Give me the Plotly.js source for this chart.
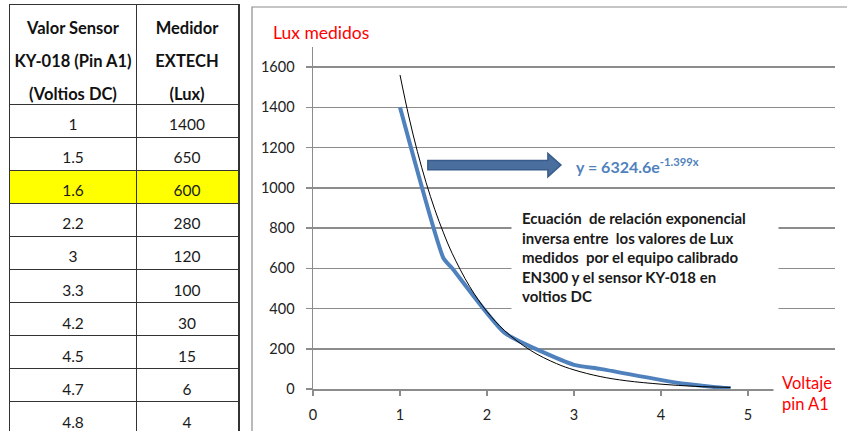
<!DOCTYPE html>
<html>
<head>
<meta charset="utf-8">
<script src="https://cdn.plot.ly/plotly-3.0.1.min.js"></script>
<style>
  html, body { margin: 0; padding: 0; background: #fff; }
  #chart { width: 847px; height: 431px; }
</style>
</head>
<body>
<div id="chart"></div>
<script>
// ---- Data ----
const voltajeLabels = ["1", "1.5", "1.6", "2.2", "3", "3.3", "4.2", "4.5", "4.7", "4.8"];
const voltaje = [1, 1.5, 1.6, 2.2, 3, 3.3, 4.2, 4.5, 4.7, 4.8];
const luxMedidos = [1400, 650, 600, 280, 120, 100, 30, 15, 6, 4];
const highlightRow = "1.6";

// exponential trend line (black)
const trendX = [1.0, 1.1, 1.2, 1.3, 1.4, 1.5, 1.6, 1.8, 2.0, 2.2, 2.5, 2.8, 3.0, 3.3, 3.6, 4.0, 4.4, 4.8];
const trendY = [1561, 1357, 1180, 1026, 892, 776, 674, 510, 385, 291, 192, 126, 95, 62, 41, 24, 13, 8];

const headerCol1 = ["Valor Sensor", "KY-018 (Pin A1)", "(Voltios DC)"];
const headerCol2 = ["Medidor", "EXTECH", "(Lux)"];

const xTickVals = [0, 1, 2, 3, 4, 5];
const yTickVals = [0, 200, 400, 600, 800, 1000, 1200, 1400, 1600];

const yTitle = "Lux medidos";
const xTitle = "Voltaje<br>pin A1";
const equationText = "<b>y = 6324.6e<sup>-1.399x</sup></b>";
const noteLines = [
  "Ecuación  de relación exponencial",
  "inversa entre  los valores de Lux",
  "medidos  por el equipo calibrado",
  "EN300 y el sensor KY-018 en",
  "voltios DC"
];

// ---- Layout helpers ----
const W = 847, H = 431;
const px = v => v / W;
const py = v => (H - v) / H;
const FONT = "Lato, 'Open Sans', sans-serif";

// table geometry (in table-axis units)
const colEdges = [0, 126, 228];
const colCenters = [63, 177];
const headerRows = headerCol1.length;
const nRows = headerRows + voltajeLabels.length;

// table text built from data
const hX = [], hY = [], hText = [];
headerCol1.forEach((t, i) => { hX.push(colCenters[0]); hY.push(i + 0.76); hText.push("<b>" + t + "</b>"); });
headerCol2.forEach((t, i) => { hX.push(colCenters[1]); hY.push(i + 0.76); hText.push("<b>" + t + "</b>"); });
const dX = [], dY = [], dText = [];
voltajeLabels.forEach((t, i) => { dX.push(colCenters[0]); dY.push(headerRows + i + 0.68); dText.push(t); });
luxMedidos.forEach((t, i) => { dX.push(colCenters[1]); dY.push(headerRows + i + 0.68); dText.push(String(t)); });

const rowLines = [];
for (let r = headerRows; r < nRows; r++) rowLines.push(r);
const hi = headerRows + voltajeLabels.indexOf(highlightRow);

const traces = [
  {
    type: "scatter", mode: "lines", name: "Lux",
    x: voltaje, y: luxMedidos,
    line: { color: "#4F81BD", width: 4, shape: "spline", smoothing: 0.5 },
    xaxis: "x", yaxis: "y", hoverinfo: "skip"
  },
  {
    type: "scatter", mode: "lines", name: "Tendencia",
    x: trendX, y: trendY,
    line: { color: "#000000", width: 1, shape: "spline" },
    xaxis: "x", yaxis: "y", hoverinfo: "skip"
  },
  {
    type: "scatter", mode: "text",
    x: hX, y: hY, text: hText,
    textposition: "middle center",
    textfont: { family: FONT, size: 16.5, color: "#111" },
    xaxis: "x2", yaxis: "y2", hoverinfo: "skip", cliponaxis: false
  },
  {
    type: "scatter", mode: "text",
    x: dX, y: dY, text: dText,
    textposition: "middle center",
    textfont: { family: FONT, size: 15.5, color: "#1a1a1a" },
    xaxis: "x2", yaxis: "y2", hoverinfo: "skip", cliponaxis: false
  }
];

const layout = {
  width: W, height: H,
  margin: { l: 0, r: 0, t: 0, b: 0 },
  paper_bgcolor: "#ffffff", plot_bgcolor: "rgba(0,0,0,0)",
  showlegend: false,
  font: { family: FONT, size: 14, color: "#222" },
  xaxis: {
    domain: [px(313), px(835)], anchor: "y",
    range: [0, 6], tickvals: xTickVals, ticktext: xTickVals.map(String),
    showgrid: false, zeroline: false,
    showline: true, linecolor: "#8c8c8c", linewidth: 1.5,
    ticks: "outside", ticklen: 5, tickcolor: "#8c8c8c", tickwidth: 1.5,
    ticklabelstandoff: 7,
    tickfont: { family: FONT, size: 14.5, color: "#222" },
    fixedrange: true
  },
  yaxis: {
    domain: [42 / H, (H - 47) / H], anchor: "x",
    range: [0, 1700], tickvals: yTickVals, ticktext: yTickVals.map(String),
    showgrid: true, gridcolor: "#8c8c8c", gridwidth: 1.5,
    zeroline: false,
    showline: true, linecolor: "#8c8c8c", linewidth: 1.5,
    ticks: "outside", ticklen: 6, tickcolor: "#8c8c8c", tickwidth: 1.5,
    ticklabelstandoff: 8,
    tickfont: { family: FONT, size: 14.5, color: "#222" },
    fixedrange: true
  },
  xaxis2: {
    domain: [px(10), px(238)], anchor: "y2",
    range: [colEdges[0], colEdges[2]],
    tickvals: [colEdges[1]], showticklabels: false, ticks: "",
    showgrid: true, gridcolor: "#333", gridwidth: 1,
    zeroline: false, showline: true, side: "top", linecolor: "#333", linewidth: 1.5,
    fixedrange: true
  },
  yaxis2: {
    domain: [0, (H - 5) / H], anchor: "x2",
    range: [12.9, 0], autorange: false,
    tickvals: rowLines, showticklabels: false, ticks: "",
    showgrid: true, gridcolor: "#333", gridwidth: 1,
    zeroline: false, showline: true, mirror: true, linecolor: "#333", linewidth: 1.5,
    fixedrange: true
  },
  shapes: [
    // highlighted row
    { type: "rect", xref: "x2", yref: "y2", x0: colEdges[0], x1: colEdges[2], y0: hi, y1: hi + 1,
      fillcolor: "#FFFF00", line: { width: 0 }, layer: "below" },
    // chart outer border
    { type: "rect", xref: "paper", yref: "paper", x0: px(252), x1: px(900), y0: py(470), y1: py(7),
      fillcolor: "rgba(0,0,0,0)", line: { color: "#8c8c8c", width: 1.2 }, layer: "above" },
    // block arrow pointing to the equation
    { type: "path", xref: "x", yref: "y",
      path: "M1.32,1090 L2.70,1090 L2.70,1055 L2.85,1113 L2.70,1171 L2.70,1136 L1.32,1136 Z",
      fillcolor: "#4A6E9E", line: { color: "#385D8A", width: 1.5 }, layer: "above" }
  ],
  annotations: [
    { xref: "paper", yref: "paper", x: px(271), y: py(32), xanchor: "left", yanchor: "middle",
      text: yTitle, showarrow: false, font: { family: FONT, size: 17.5, color: "#FF0000" } },
    { xref: "paper", yref: "paper", x: px(773), y: py(393), xanchor: "left", yanchor: "middle",
      text: xTitle, showarrow: false, align: "left", bgcolor: "#ffffff", borderpad: 8,
      font: { family: FONT, size: 16.5, color: "#FF0000" } },
    { xref: "paper", yref: "paper", x: px(574), y: py(166), xanchor: "left", yanchor: "middle",
      text: equationText, showarrow: false, font: { family: FONT, size: 16, color: "#4F81BD" } },
    { xref: "paper", yref: "paper", x: px(511), y: py(200), xanchor: "left", yanchor: "top",
      text: noteLines.map(l => "<b>" + l + "</b>").join("<br>"), showarrow: false,
      align: "left", valign: "middle", width: 246, height: 92, borderpad: 10,
      bgcolor: "#ffffff", font: { family: FONT, size: 15, color: "#1a1a1a" } }
  ]
};

Plotly.newPlot("chart", traces, layout, { staticPlot: true, displayModeBar: false });
</script>
</body>
</html>
